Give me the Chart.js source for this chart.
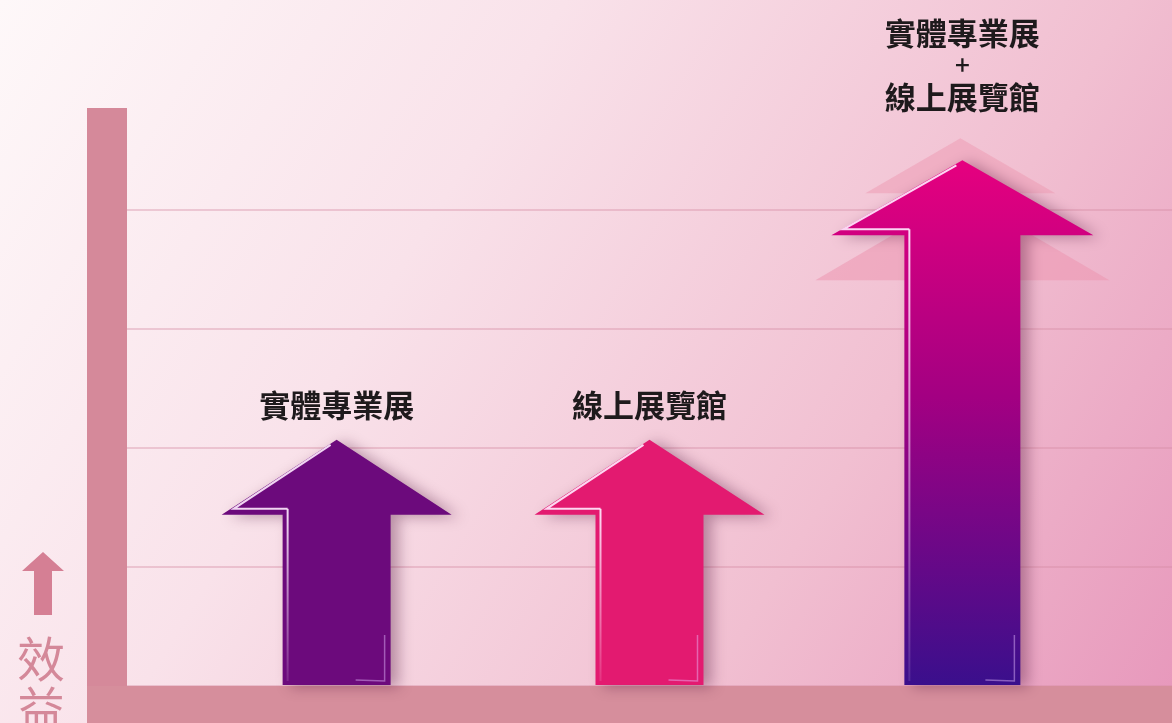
<!DOCTYPE html>
<html><head><meta charset="utf-8">
<script src="https://cdn.jsdelivr.net/npm/chart.js@4"></script>
<style>html,body{margin:0;padding:0;background:#fbeef2;overflow:hidden} canvas{display:block}</style>
</head><body>
<canvas id="c" width="1172" height="723"></canvas>
<script>
// ---- data ----
const categories = [["實體專業展"], ["線上展覽館"], ["實體專業展", "+", "線上展覽館"]];
const values = [2.07, 2.07, 4.42];
const gridStep = 1;
const yMax = 4.86;
const axisTitle = ["效", "益"];

// ---- styles ----
const arrowStyles = [
  {hw:115, sw:54, hh:75, fill:'#6c0a7c', labelGap:35},
  {hw:115, sw:54, hh:75, fill:'#e31a70', labelGap:35},
  {hw:131, sw:58, hh:75, grad:['#e6007f','#a30082','#3a0f8c'], ghosts:true, labelGap:63}
];

const bgPlugin = {
  id:'bg',
  beforeDraw(chart){
    const {ctx, width, height} = chart;
    ctx.save();
    const g = ctx.createLinearGradient(0,0,width,height);
    g.addColorStop(0,'#fef8f9');
    g.addColorStop(0.35,'#f9e2ea');
    g.addColorStop(0.7,'#f1bfd1');
    g.addColorStop(1,'#e797bb');
    ctx.fillStyle = g;
    ctx.fillRect(0,0,width,height);
    ctx.restore();
  },
  beforeDatasetsDraw(chart){
    const {ctx, chartArea:a, width, height} = chart;
    ctx.save();
    ctx.fillStyle = '#d5899a';
    ctx.fillRect(a.left-40, a.top, 40, height - a.top);
    ctx.fillStyle = '#d68e9c';
    ctx.fillRect(a.left-40, a.bottom, width - a.left + 40, height - a.bottom);
    ctx.restore();
  }
};

function arrowPath(ctx, x, tipY, base, hw, sw, hh){
  const hb = tipY + hh;
  ctx.beginPath();
  ctx.moveTo(x, tipY);
  ctx.lineTo(x+hw, hb);
  ctx.lineTo(x+sw, hb);
  ctx.lineTo(x+sw, base);
  ctx.lineTo(x-sw, base);
  ctx.lineTo(x-sw, hb);
  ctx.lineTo(x-hw, hb);
  ctx.closePath();
}
function tri(ctx, x, tipY, baseY, hw){
  ctx.beginPath();
  ctx.moveTo(x, tipY);
  ctx.lineTo(x+hw, baseY);
  ctx.lineTo(x-hw, baseY);
  ctx.closePath();
}

const arrowPlugin = {
  id:'arrows',
  afterDatasetsDraw(chart){
    const ctx = chart.ctx;
    const meta = chart.getDatasetMeta(0);
    meta.data.forEach((el,i)=>{
      const s = arrowStyles[i];
      const x = el.x, tipY = el.y, base = el.base;
      ctx.save();
      if (s.ghosts){
        ctx.fillStyle = 'rgba(236,150,176,0.55)';
        tri(ctx, x, tipY+34, tipY+120, 147);
        ctx.fill();
        ctx.fillStyle = 'rgba(238,160,184,0.6)';
        tri(ctx, x-2, tipY-22, tipY+33, 95);
        ctx.fill();
      }
      ctx.shadowColor = 'rgba(70,10,50,0.35)';
      ctx.shadowBlur = 14;
      ctx.shadowOffsetX = 8;
      ctx.shadowOffsetY = 2;
      if (s.grad){
        const g = ctx.createLinearGradient(0, tipY, 0, base);
        g.addColorStop(0, s.grad[0]);
        g.addColorStop(0.45, s.grad[1]);
        g.addColorStop(1, s.grad[2]);
        ctx.fillStyle = g;
      } else ctx.fillStyle = s.fill;
      arrowPath(ctx, x, tipY, base, s.hw, s.sw, s.hh);
      ctx.fill();
      ctx.shadowColor = 'transparent';
      const hb = tipY + s.hh;
      ctx.strokeStyle = 'rgba(255,236,255,0.9)';
      ctx.lineWidth = 2;
      ctx.beginPath();
      ctx.moveTo(x-6, tipY+5);
      ctx.lineTo(x-s.hw+12, hb-6);
      ctx.lineTo(x-s.sw+5, hb-6);
      ctx.stroke();
      const lg = ctx.createLinearGradient(0, hb, 0, base);
      lg.addColorStop(0,'rgba(255,236,255,0.9)');
      lg.addColorStop(1,'rgba(255,236,255,0.1)');
      ctx.strokeStyle = lg;
      ctx.beginPath();
      ctx.moveTo(x-s.sw+5, hb-6);
      ctx.lineTo(x-s.sw+5, base-4);
      ctx.stroke();
      ctx.strokeStyle = 'rgba(230,190,255,0.45)';
      ctx.lineWidth = 1.5;
      ctx.beginPath();
      ctx.moveTo(x+s.sw-6, base-50);
      ctx.lineTo(x+s.sw-6, base-4);
      ctx.lineTo(x+s.sw-35, base-5);
      ctx.stroke();
      ctx.restore();
    });
  },
  afterDraw(chart){
    const ctx = chart.ctx;
    const meta = chart.getDatasetMeta(0);
    ctx.save();
    ctx.fillStyle = '#1e1a1c';
    ctx.textAlign = 'center';
    ctx.textBaseline = 'middle';
    const lh = 32;
    meta.data.forEach((el,i)=>{
      const lines = categories[i];
      const s = arrowStyles[i];
      const lastY = el.y - s.labelGap;
      lines.forEach((t,j)=>{
        const y = lastY - (lines.length-1-j)*lh;
        ctx.font = (t === '+' ? '500 26px' : 'bold 31px') + ' "Noto Sans CJK TC", sans-serif';
        ctx.fillText(t, el.x, y);
      });
    });
    const a = chart.chartArea;
    const cx = a.left - 84;
    ctx.fillStyle = '#d57f94';
    ctx.beginPath();
    ctx.moveTo(cx, 552);
    ctx.lineTo(cx+21, 571);
    ctx.lineTo(cx+9, 571);
    ctx.lineTo(cx+9, 615);
    ctx.lineTo(cx-9, 615);
    ctx.lineTo(cx-9, 571);
    ctx.lineTo(cx-21, 571);
    ctx.closePath();
    ctx.fill();
    ctx.fillStyle = '#d48899';
    ctx.font = '48px "Noto Sans CJK TC", sans-serif';
    axisTitle.forEach((t,j)=>{ ctx.fillText(t, cx-2, 659 + j*50); });
    ctx.restore();
  }
};

new Chart(document.getElementById('c').getContext('2d'), {
  type:'bar',
  data:{
    datasets:[{
      data: values.map((v,i)=>({x:i, y:v})),
      backgroundColor:'rgba(0,0,0,0)',
      borderWidth:0
    }]
  },
  options:{
    responsive:false,
    animation:false,
    devicePixelRatio:1,
    layout:{padding:{left:127, right:0, top:108, bottom:37}},
    plugins:{legend:{display:false}, tooltip:{enabled:false}},
    scales:{
      x:{type:'linear', offset:false, min:-0.67, max:2.67, display:false},
      y:{
        min:0, max:yMax,
        afterFit(s){ s.width = 0; },
        ticks:{display:false, stepSize:gridStep, includeBounds:false},
        border:{display:false},
        grid:{color:'rgba(214,140,162,0.38)', lineWidth:2, drawTicks:false}
      }
    }
  },
  plugins:[bgPlugin, arrowPlugin]
});
</script>
</body></html>
